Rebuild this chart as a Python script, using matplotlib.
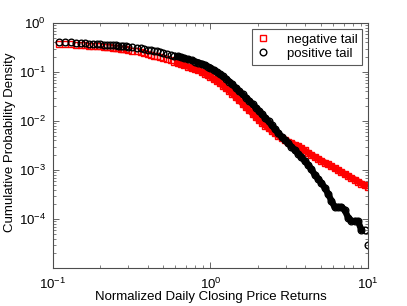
import matplotlib
matplotlib.use("Agg")
import matplotlib.pyplot as plt
import numpy as np

plt.rcParams['font.family'] = ['Liberation Sans', 'DejaVu Sans']
plt.rcParams['mathtext.fontset'] = 'custom'
plt.rcParams['mathtext.rm'] = 'Liberation Sans'
plt.rcParams['mathtext.default'] = 'regular'

# return values (same grid for both tails)
returns = [0.11, 0.12, 0.13, 0.14, 0.15, 0.16, 0.17, 0.18, 0.19, 0.20,
           0.21, 0.22, 0.23, 0.24, 0.25, 0.26, 0.27, 0.28, 0.29, 0.30,
           0.32, 0.34, 0.36, 0.38, 0.40, 0.42, 0.44, 0.46, 0.48, 0.50,
           0.53, 0.56, 0.59, 0.62, 0.65, 0.68, 0.72, 0.76, 0.80, 0.84,
           0.88, 0.92, 0.96, 1.00, 1.05, 1.10, 1.15, 1.20, 1.26, 1.32,
           1.38, 1.45, 1.52, 1.60, 1.68, 1.76, 1.85, 1.94, 2.03, 2.13,
           2.23, 2.34, 2.45, 2.57, 2.70, 2.83, 2.97, 3.12, 3.27, 3.43,
           3.60, 3.78, 3.97, 4.17, 4.38, 4.60, 4.83, 5.07, 5.32, 5.58,
           5.86, 6.15, 6.46, 6.78, 7.12, 7.48, 7.85, 8.24, 8.65, 9.08,
           9.53, 10.0]

neg_tail = [0.378, 0.373, 0.366, 0.361, 0.356, 0.349, 0.344, 0.339, 0.334, 0.331,
            0.327, 0.322, 0.318, 0.315, 0.310, 0.306, 0.299, 0.293, 0.288, 0.282,
            0.272, 0.263, 0.255, 0.243, 0.233, 0.224, 0.216, 0.208, 0.201, 0.193,
            0.182, 0.172, 0.162, 0.154, 0.146, 0.139, 0.129, 0.121, 0.114, 0.108,
            0.100, 0.0928, 0.0861, 0.0798, 0.0720, 0.0655, 0.0593, 0.0527, 0.0462, 0.0408,
            0.0357, 0.0308, 0.0265, 0.0226, 0.0193, 0.0166, 0.0142, 0.0122, 0.0105, 0.00915,
            0.00806, 0.00710, 0.00631, 0.00561, 0.00499, 0.00450, 0.00413, 0.00380, 0.00352, 0.00328,
            0.00307, 0.00281, 0.00251, 0.00225, 0.00203, 0.00185, 0.00169, 0.00154, 0.00142, 0.00130,
            0.00120, 0.00109, 0.00100, 0.00091, 0.00083, 0.00076, 0.00069, 0.00064, 0.00058, 0.00053,
            0.00049, 0.00045]

pos_tail = [0.415, 0.408, 0.402, 0.396, 0.389, 0.383, 0.378, 0.373, 0.367, 0.364,
            0.361, 0.357, 0.354, 0.351, 0.349, 0.346, 0.341, 0.336, 0.331, 0.328,
            0.321, 0.315, 0.308, 0.296, 0.286, 0.279, 0.270, 0.262, 0.255, 0.247,
            0.235, 0.225, 0.216, 0.207, 0.200, 0.191, 0.181, 0.172, 0.163, 0.156,
            0.147, 0.138, 0.129, 0.122, 0.110, 0.100, 0.0906, 0.0813, 0.0720, 0.0637,
            0.0556, 0.0474, 0.0406, 0.0348, 0.0299, 0.0259, 0.0220, 0.0188, 0.0161, 0.0136,
            0.0116, 0.00977, 0.00820, 0.00684, 0.00566, 0.00478, 0.00409, 0.00351, 0.00299, 0.00256,
            0.00217, 0.00183, 0.00153, 0.00128, 0.00103, 0.000798, 0.000661, 0.000541, 0.000435, 0.000330,
            0.000236, 0.000176, 0.000176, 0.000176, 0.000154, 0.000107, 0.000091, 0.000091, 0.000091, 0.0000597,
            0.0000597, 0.0000295]

# where the markers pile up into a solid band
dense = 32

fig = plt.figure(figsize=(4.07, 3.06), dpi=100)
ax = fig.add_axes([0.130, 0.124, 0.774, 0.801])

ax.loglog(returns, neg_tail, 's', mfc='none', mec='red', ms=4.4, mew=1.0,
          label='negative tail')
ax.loglog(returns[dense:], neg_tail[dense:], '-', color='red', lw=4.6,
          solid_capstyle='butt')
ax.loglog(returns, pos_tail, 'o', mfc='none', mec='black', ms=4.8, mew=1.0,
          label='positive tail')
ax.loglog(returns[dense:-1], pos_tail[dense:-1], '-', color='black', lw=4.6,
          solid_capstyle='butt')

ax.set_xlim(0.1, 10)
ax.set_ylim(1e-5, 1)
ax.set_yticks([1e-4, 1e-3, 1e-2, 1e-1, 1])
ax.set_xlabel('Normalized Daily Closing Price Returns', fontsize=9.5,
              ha='center', va='center')
ax.set_ylabel('Cumulative Probability Density', fontsize=9.5,
              ha='center', va='center')
ax.xaxis.set_label_coords(0.5, -0.118)
ax.yaxis.set_label_coords(-0.137, 0.512)

axc = '0.3'
for s in ax.spines.values():
    s.set_color(axc)
    s.set_linewidth(0.8)
ax.tick_params(which='both', direction='in', top=True, right=True, colors=axc,
               labelcolor='black', labelsize=9.5)
ax.tick_params(which='major', length=4, width=0.6)
ax.tick_params(which='minor', length=2, width=0.5)
ax.tick_params(axis='x', pad=6)
ax.tick_params(axis='y', pad=5)

leg = ax.legend(loc='upper right', fontsize=9.5, fancybox=False, framealpha=1,
                edgecolor='0.35', handlelength=1.0, handletextpad=1.3,
                borderpad=0.35, labelspacing=0.15, borderaxespad=0.45)
leg.get_frame().set_linewidth(0.8)

fig.savefig('out.png', dpi=100)
